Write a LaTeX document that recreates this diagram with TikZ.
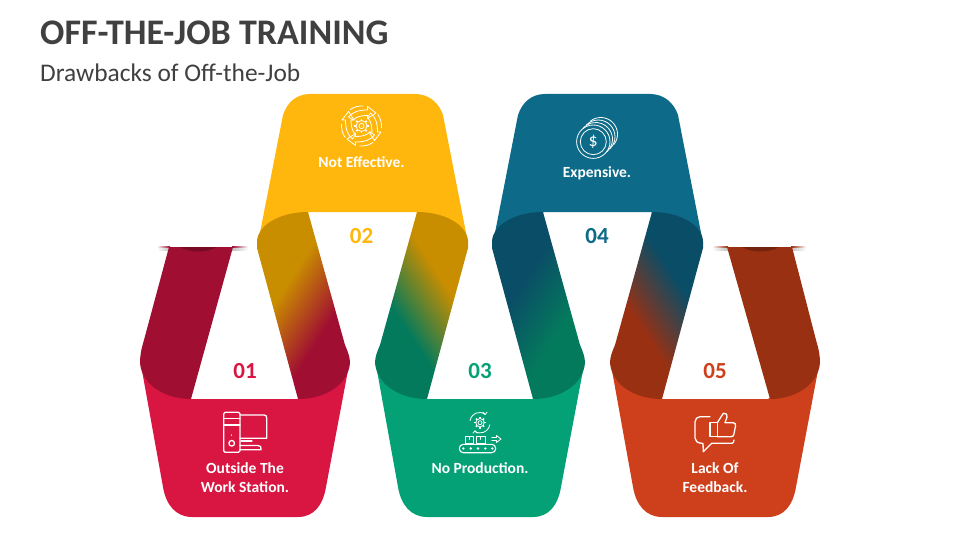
\documentclass[tikz,border=0pt]{standalone}
\usepackage{fontspec}
\setmainfont{Carlito}
\usetikzlibrary{positioning}
\definecolor{inkgray}{HTML}{404040}
\definecolor{redband}{HTML}{D91542}
\definecolor{redflap}{HTML}{A00E32}
\definecolor{goldband}{HTML}{FFB60D}
\definecolor{goldflap}{HTML}{C98D00}
\definecolor{greenband}{HTML}{04A177}
\definecolor{greenflap}{HTML}{047A5C}
\definecolor{tealband}{HTML}{0D6A88}
\definecolor{tealflap}{HTML}{0A4D66}
\definecolor{rustband}{HTML}{CE3F1B}
\definecolor{rustflap}{HTML}{9A3012}
\pgfdeclarehorizontalshading[flapa,flapb]{flapshade}{100bp}{color(0bp)=(flapa); color(40bp)=(flapa); color(62bp)=(flapb); color(100bp)=(flapb)}
\tikzset{
  flapfade/.style n args={3}{/utils/exec={\colorlet{flapa}{#1}\colorlet{flapb}{#2}}, shading=flapshade, shading angle=#3},
  caption/.style={text=white, font=\fontsize{15.5}{19}\selectfont\bfseries, align=center, inner sep=0pt},
  number/.style={font=\fontsize{23}{23}\selectfont\bfseries, inner sep=0pt},
  iconline/.style={draw=white, line width=1.3pt, line join=round, line cap=round},
  thinline/.style={iconline, line width=.8pt},
}
\newcommand{\lowband}{(141,365) -- (163,487) .. controls (166,505) and (176,517) .. (192,517) -- (298,517) .. controls (314,517) and (323,505) .. (326,487) -- (349,365) -- (298,399) -- (190,399) -- cycle}
\newcommand{\topband}{(258,243) -- (283,115) .. controls (287,103) and (296,94) .. (310,94) -- (415,94) .. controls (429,94) and (439,103) .. (443,115) -- (468,243) -- (416,212) -- (309,212) -- cycle}
\newcommand{\flapfall}{(257,241) .. controls (258,225) and (280,212) .. (308,212) -- (345,345) .. controls (348,352) and (350,357) .. (350,363) .. controls (348,385) and (325,399) .. (298,399) -- (257,248) -- cycle}
\newcommand{\flaprise}{(468,241) .. controls (467,225) and (445,212) .. (417,212) -- (380,345) .. controls (377,352) and (375,357) .. (375,363) .. controls (377,385) and (400,399) .. (427,399) -- (468,248) -- cycle}

\begin{document}
\begin{tikzpicture}[x=1pt,y=-1pt]
  \useasboundingbox (0,0) rectangle (960,540);
  \fill[white] (0,0) rectangle (960,540);

  % Titles
  \node[anchor=base west, inner sep=0pt, text=inkgray, font=\fontsize{36}{36}\selectfont\bfseries] (title) at (40,45) {OFF-THE-JOB TRAINING};
  \node[anchor=base west, inner sep=0pt, text=inkgray, font=\fontsize{25.4}{26}\selectfont] (subtitle) at (40,81.5) {Drawbacks of Off-the-Job};

  % Shadows over the two free ends
  \shade[left color=white, right color=gray!50] (157,247.5) rectangle (170,250);
  \shade[left color=gray!50, right color=white] (232,247.5) rectangle (248,250);
  \shade[left color=white, right color=redflap] (157,246.5) rectangle (170,247.5);
  \shade[left color=redflap, right color=white] (232,246.5) rectangle (248,247.5);
  \shade[left color=white, right color=gray!50] (712,247.5) rectangle (728,250);
  \shade[left color=gray!50, right color=white] (791,247.5) rectangle (806,250);
  \shade[left color=white, right color=rustflap] (712,246.5) rectangle (728,247.5);
  \shade[left color=rustflap, right color=white] (791,246.5) rectangle (806,247.5);

  % Bands
  \fill[redband] \lowband;
  \begin{scope}[shift={(235,0)}]
    \fill[greenband] \lowband;
  \end{scope}
  \begin{scope}[shift={(470,0)}]
    \fill[rustband] \lowband;
  \end{scope}
  \fill[goldband] \topband;
  \begin{scope}[shift={(235,0)}]
    \fill[tealband] \topband;
  \end{scope}

  % Free ends
  \fill[redflap] (169,247) -- (144,340) .. controls (141,350) and (140,356) .. (140,363) .. controls (142,385) and (165,399) .. (191,399) -- (233,247) -- cycle;
  \fill[rustflap] (792,247) -- (816,340) .. controls (819,350) and (820,356) .. (820,363) .. controls (818,385) and (795,399) .. (770,399) -- (727,247) -- cycle;
  \fill[redflap!75!black] (180,247) .. controls (190,253) and (207,253) .. (217,247) -- cycle;
  \fill[rustflap!75!black] (742,247) .. controls (752,253) and (769,253) .. (779,247) -- cycle;

  % Folds
  \shade[flapfade={goldflap}{redflap}{-33}] \flapfall;
  \shade[flapfade={greenflap}{goldflap}{33}] \flaprise;
  \begin{scope}[shift={(235,0)}]
    \shade[flapfade={tealflap}{greenflap}{-33}] \flapfall;
    \shade[flapfade={rustflap}{tealflap}{33}] \flaprise;
  \end{scope}

  % Numbers
  \node[number, text=redband] (n01) at (245,371) {01};
  \node[number, text=goldband] (n02) at (361.5,236) {02};
  \node[number, text=greenband] (n03) at (480,371) {03};
  \node[number, text=tealband] (n04) at (597,236) {04};
  \node[number, text=rustband] (n05) at (715,371) {05};

  % Captions
  \node[caption] (c01) at (245,478) {Outside The\\Work Station.};
  \node[caption] (c02) at (361.5,162) {Not Effective.};
  \node[caption] (c03) at (480,468.5) {No Production.};
  \node[caption] (c04) at (597,173) {Expensive.};
  \node[caption] (c05) at (715,478) {Lack Of\\Feedback.};

  % Computer
  \draw[iconline, rounded corners=1.5pt] (223.7,412.3) rectangle (240,452.3);
  \draw[iconline] (223.7,418.3) -- (240,418.3) (223.7,425) -- (240,425);
  \draw[iconline] (240,415) -- (264,415) .. controls (266,415) and (266.7,416) .. (266.7,418) -- (266.7,438.3) -- (240,438.3);
  \draw[iconline] (231.5,435) -- (231.5,435.2) (241,441) -- (252,441);
  \draw[iconline] (231.7,443.3) circle[radius=2.8];
  \draw[iconline] (240,449.8) -- (261,449.8) .. controls (262,447) and (260,445.5) .. (258,445.5) -- (240,445.5);

  % Gear with four arrows
  \begin{scope}[shift={(361.5,126)}, y=1pt]
    \foreach \a in {0,90,180,270} {
      \draw[thinline, rotate=\a] (-13,9) .. controls (-9,14) and (-3,16) .. (6,16) -- (6,19.5) -- (14.5,13) -- (6,7.5) -- (6,10.5) .. controls (0,10.5) and (-5,9.5) .. (-8.5,6) -- cycle;
      \draw[thinline] ({\a+85}:20) arc[start angle=\a+85, end angle=\a+125, radius=20];
    }
    \draw[thinline] (0,0) circle[radius=5.5] (0,0) circle[radius=2.6];
    \foreach \a in {0,45,...,315} {
      \draw[white, line width=1.6pt] (\a:5.4) -- (\a:7.4);
    }
  \end{scope}

  % Conveyor with gear
  \begin{scope}[shift={(480,422.7)}, y=1pt]
    \draw[thinline] (-10,2) arc[start angle=170, end angle=60, radius=10] (9.8,-2) arc[start angle=-10, end angle=-120, radius=10];
    \draw[thinline] (3,10.5) -- (5,8) -- (7,10.5) (-3,-10.5) -- (-5,-8) -- (-7,-10.5);
    \draw[thinline] (0,0) circle[radius=4.2] (0,0) circle[radius=2];
    \foreach \a in {0,45,...,315} {
      \draw[white, line width=1.4pt] (\a:4) -- (\a:5.8);
    }
  \end{scope}
  \draw[thinline] (465,443.3) rectangle (473.3,436.7) (476.7,443.3) rectangle (485,436.7) (469,436.7) -- (469,439.5) (480.8,436.7) -- (480.8,439.5);
  \draw[thinline] (491.7,437.5) -- (496.5,437.5) -- (496.5,435.5) -- (501,439) -- (496.5,442.5) -- (496.5,440.5) -- (491.7,440.5);
  \draw[iconline, line width=1.1pt, rounded corners=4pt] (459.3,444.3) rectangle (495.7,452.7);
  \foreach \x in {463.3,470.7,478,485.3,492.3} {
    \fill[white] (\x,448.5) circle[radius=1.3];
  }

  % Coins
  \begin{scope}[shift={(593.3,141.7)}, y=1pt]
    \draw[thinline] (0,0) circle[radius=16.7] (0,0) circle[radius=13];
    \draw[thinline] (2.5,2.5)++(-50:16.7) arc[start angle=-50, end angle=140, radius=16.7];
    \draw[thinline] (5,5)++(-45:16.7) arc[start angle=-45, end angle=135, radius=16.7];
    \draw[thinline] (7.5,7.5)++(-40:16.7) arc[start angle=-40, end angle=130, radius=16.7];
    \node[text=white, inner sep=0pt, font=\fontsize{18}{18}\selectfont] (dollar) at (0,0) {\$};
  \end{scope}

  % Thumb in a speech bubble
  \draw[iconline] (710,416.7) -- (700,416.7) .. controls (697,416.7) and (695,419) .. (695,422) -- (695,438) .. controls (695,441) and (697,443) .. (703,443.5) -- (703.3,451.7) -- (711.7,443.3) -- (732,443.3) .. controls (733,443.3) and (734,442) .. (734,440);
  \draw[iconline] (710,422.7) rectangle (717.3,436.7);
  \draw[iconline] (717.3,422.7) -- (723.3,413.3) .. controls (726,412.5) and (728,415) .. (727,417) -- (725,422.7) -- (733,422.7) .. controls (735,422.7) and (736,424) .. (735.5,426) -- (733.8,434.5) .. controls (733.4,436) and (732.5,436.7) .. (731,436.7) -- (717.3,436.7);
\end{tikzpicture}
\end{document}
